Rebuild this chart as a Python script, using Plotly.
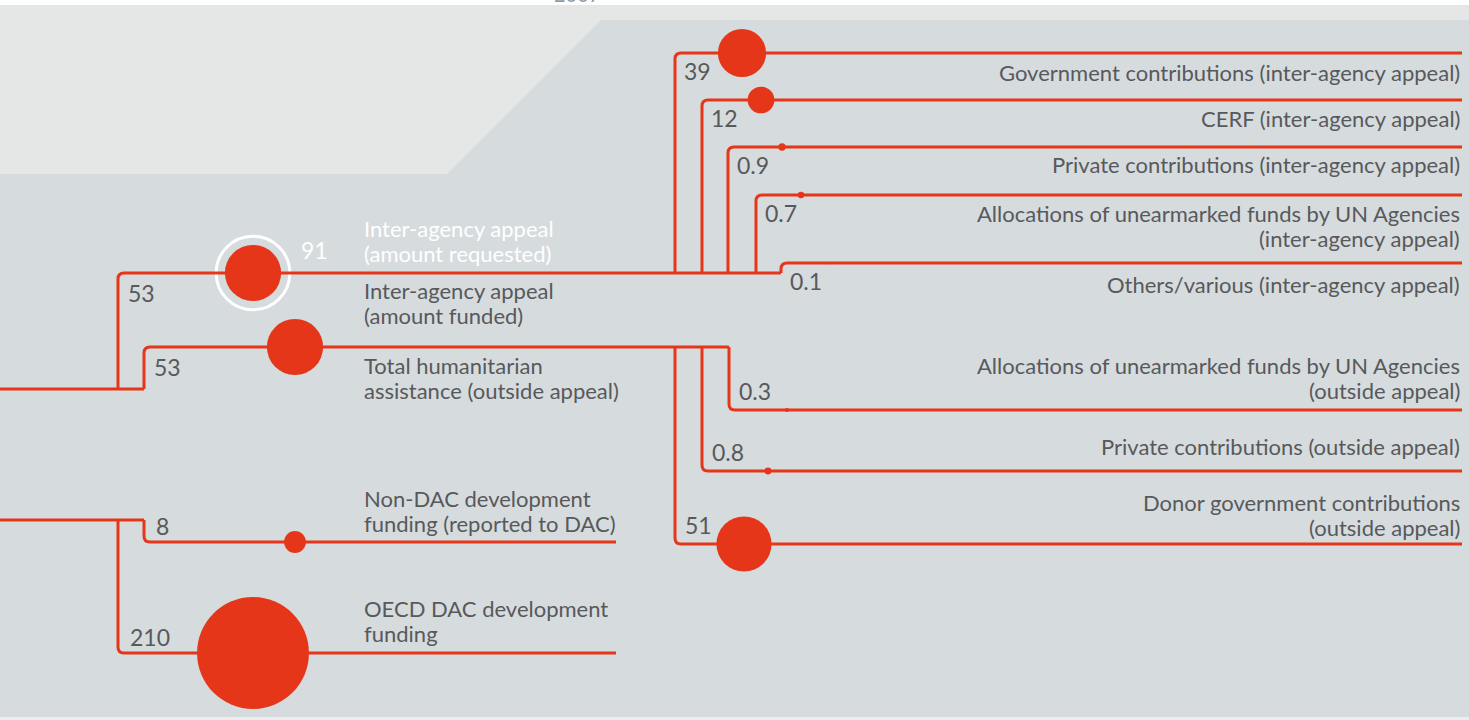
import plotly.graph_objects as go

# ── Data ──────────────────────────────────────────────────────────────────────
REQUESTED_LABEL = "Inter-agency appeal<br>(amount requested)"
REQUESTED_VALUE = 91

HUM_LABELS = ["Inter-agency appeal<br>(amount funded)",
              "Total humanitarian<br>assistance (outside appeal)"]
HUM_VALUES = [53, 53]

DEV_LABELS = ["Non-DAC development<br>funding (reported to DAC)",
              "OECD DAC development<br>funding"]
DEV_VALUES = [8, 210]

IA_LABELS = ["Government contributions (inter-agency appeal)",
             "CERF (inter-agency appeal)",
             "Private contributions (inter-agency appeal)",
             "Allocations of unearmarked funds by UN Agencies<br>(inter-agency appeal)",
             "Others/various (inter-agency appeal)"]
IA_VALUES = [39, 12, 0.9, 0.7, 0.1]

OA_LABELS = ["Allocations of unearmarked funds by UN Agencies<br>(outside appeal)",
             "Private contributions (outside appeal)",
             "Donor government contributions<br>(outside appeal)"]
OA_VALUES = [0.3, 0.8, 51]

YEAR = "2007"

# ── Layout (pixel positions of the tree) ──────────────────────────────────────
W, H = 1469, 720
K = 3.86            # radius px per sqrt(value)
CORNER = 6
RED = "#e5361a"
BG = "#d6dbde"
BG_LIGHT = "#e5e7e6"
TXT = "#58595b"
FONT = "Lato"
LAB_SIZE = 22
NUM_SIZE = 23
LINE_GAP = 25

HUM_ROOT_Y = 389
HUM_XB = [118, 144]
HUM_Y = [273, 347]
HUM_CX = [253, 295]
HUM_XE = [781, 729]

DEV_ROOT_Y = 520
DEV_XB = [144, 118]
DEV_Y = [542, 653]
DEV_CX = [295, 253]
DEV_XE = [616, 616]

IA_XB = [675, 702, 728, 756, 781]
IA_Y = [53, 100, 147, 195, 263]
IA_CX = [742, 761, 782, 801, 830]

OA_XB = [729, 702, 675]
OA_Y = [410, 471, 544]
OA_CX = [787, 768, 744]

RIGHT_X = 1462
LEFT_TXT_X = 362


def elbow(xb, yp, yc, xe):
    s = 1 if yc > yp else -1
    if abs(yc - yp) <= CORNER:
        return f"M {xb} {yp} L {xb} {yc} L {xe} {yc}"
    return (f"M {xb} {yp} L {xb} {yc - s * CORNER} "
            f"Q {xb} {yc} {xb + CORNER} {yc} L {xe} {yc}")


def radius(v):
    return K * v ** 0.5


fig = go.Figure()
shapes = []
annotations = []

# background panels
shapes.append(dict(type="path", layer="below", line_width=0, fillcolor=BG_LIGHT,
                   path="M 0 5 L 1469 5 L 1469 20 L 601 20 L 447 174 L 0 174 Z"))
shapes.append(dict(type="rect", layer="below", line_width=0, fillcolor="white",
                   x0=0, x1=W, y0=0, y1=5))
shapes.append(dict(type="rect", layer="below", line_width=0, fillcolor="#eceeee",
                   x0=0, x1=W, y0=717, y1=H))

line_style = dict(color=RED, width=3)

# root lines
shapes.append(dict(type="path", path=f"M 0 {HUM_ROOT_Y} L {max(HUM_XB)} {HUM_ROOT_Y}", line=line_style))
shapes.append(dict(type="path", path=f"M 0 {DEV_ROOT_Y} L {max(DEV_XB)} {DEV_ROOT_Y}", line=line_style))

for xb, y, xe in zip(HUM_XB, HUM_Y, HUM_XE):
    shapes.append(dict(type="path", path=elbow(xb, HUM_ROOT_Y, y, xe), line=line_style))
for xb, y, xe in zip(DEV_XB, DEV_Y, DEV_XE):
    shapes.append(dict(type="path", path=elbow(xb, DEV_ROOT_Y, y, xe), line=line_style))
for xb, y in zip(IA_XB, IA_Y):
    shapes.append(dict(type="path", path=elbow(xb, HUM_Y[0], y, RIGHT_X), line=line_style))
for xb, y in zip(OA_XB, OA_Y):
    shapes.append(dict(type="path", path=elbow(xb, HUM_Y[1], y, RIGHT_X), line=line_style))

# circles
cx = HUM_CX + DEV_CX + IA_CX + OA_CX
cy = HUM_Y + DEV_Y + IA_Y + OA_Y
vals = HUM_VALUES + DEV_VALUES + IA_VALUES + OA_VALUES
sizes = [2 * radius(v) for v in vals]

# requested ring (91) around the funded circle
ring_r = radius(REQUESTED_VALUE)
fig.add_trace(go.Scatter(x=[HUM_CX[0]], y=[HUM_Y[0]], mode="markers", hoverinfo="skip",
                         marker=dict(size=2 * ring_r + 6, color=BG, opacity=1, line=dict(width=0))))
fig.add_trace(go.Scatter(x=[HUM_CX[0]], y=[HUM_Y[0]], mode="markers", hoverinfo="skip",
                         marker=dict(size=2 * ring_r, color=BG, opacity=1,
                                     line=dict(color="white", width=3))))
fig.add_trace(go.Scatter(x=cx, y=cy, mode="markers", hoverinfo="skip",
                         marker=dict(size=[s + 7 for s in sizes], color=BG, opacity=1,
                                     line=dict(width=0))))
fig.add_trace(go.Scatter(x=cx, y=cy, mode="markers", hoverinfo="skip",
                         marker=dict(size=sizes, color=RED, opacity=1, line=dict(width=0))))


def txt(x, y, text, xa="left", color=TXT, size=LAB_SIZE):
    # one annotation per line, for tighter line spacing
    lines = text.split("<br>")
    y0 = y - (len(lines) - 1) * LINE_GAP / 2
    for i, ln in enumerate(lines):
        annotations.append(dict(x=x, y=y0 + i * LINE_GAP, text=ln, showarrow=False,
                                xanchor=xa, yanchor="middle", align=xa,
                                font=dict(family=FONT, size=size, color=color)))


def num(v):
    return f"{v:g}"


# value labels
for xb, y, v in zip(HUM_XB, HUM_Y, HUM_VALUES):
    txt(xb + 8, y + 20, num(v), size=NUM_SIZE)
for xb, y, v in zip(DEV_XB, DEV_Y, DEV_VALUES):
    txt(xb + 10, y - 16, num(v), size=NUM_SIZE)
for xb, y, v in zip(IA_XB, IA_Y, IA_VALUES):
    txt(xb + 7, y + 18, num(v), size=NUM_SIZE)
for xb, y, v in zip(OA_XB, OA_Y, OA_VALUES):
    txt(xb + 8, y - 19, num(v), size=NUM_SIZE)
txt(HUM_CX[0] + ring_r + 9, 250, num(REQUESTED_VALUE), color="white", size=NUM_SIZE)

# description labels
txt(LEFT_TXT_X, 241, REQUESTED_LABEL, color="white")
txt(LEFT_TXT_X, 303, HUM_LABELS[0])
txt(LEFT_TXT_X, 378, HUM_LABELS[1])
txt(LEFT_TXT_X, 511, DEV_LABELS[0])
txt(LEFT_TXT_X, 621, DEV_LABELS[1])

for lab, y in zip(IA_LABELS, [72, 118, 164, 226, 284]):
    txt(RIGHT_X, y, lab, xa="right")
for lab, y in zip(OA_LABELS, [378, 446, 515]):
    txt(RIGHT_X, y, lab, xa="right")

# year heading, mostly cut off above the top edge
annotations.append(dict(x=577, y=1 + 6 / H, xref="x", yref="paper", text=YEAR,
                        showarrow=False, xanchor="center", yanchor="middle",
                        font=dict(family=FONT, size=20, color="#8a9aa3")))

fig.update_layout(
    width=W, height=H,
    margin=dict(l=0, r=0, t=0, b=0),
    paper_bgcolor=BG, plot_bgcolor=BG,
    showlegend=False,
    xaxis=dict(range=[0, W], visible=False, fixedrange=True),
    yaxis=dict(range=[H, 0], visible=False, fixedrange=True),
    shapes=shapes,
    annotations=annotations,
)

fig.write_html("out.html", config={"displayModeBar": False},
               post_script="document.body.style.margin='0';")
